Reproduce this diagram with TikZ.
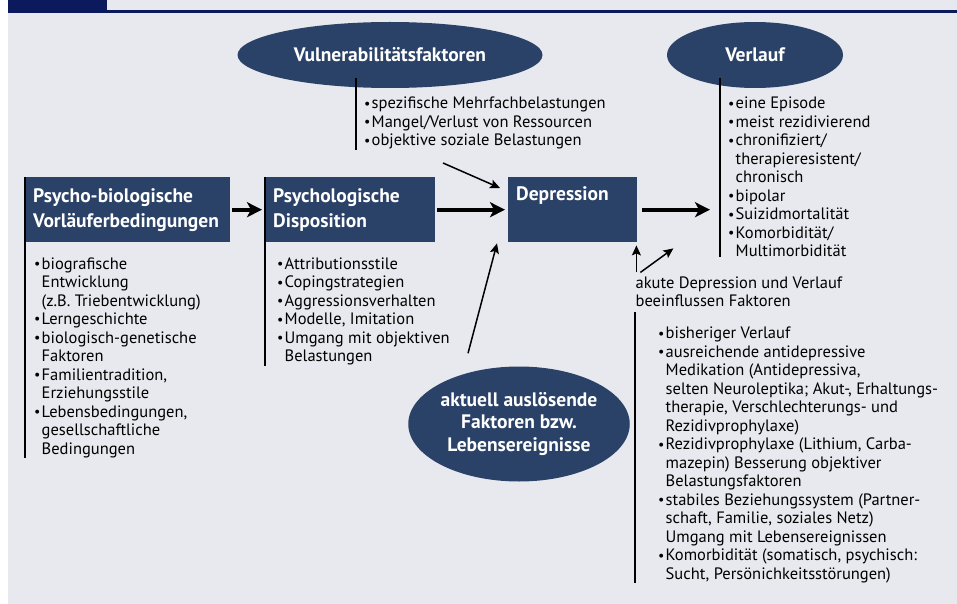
\documentclass[tikz,border=0pt]{standalone}
\usepackage{fontspec}
\setmainfont{PT Sans}
\usetikzlibrary{arrows.meta,positioning,shapes.geometric}
\definecolor{boxblue}{RGB}{42,66,104}
\definecolor{topnavy}{RGB}{10,26,92}
\definecolor{bggray}{RGB}{232,233,238}
\newcommand{\itm}{\makebox[7.5pt][l]{\raisebox{0.8pt}{\scalebox{0.85}{\textbullet}}}}
\newcommand{\ind}{\hspace*{7.5pt}}

\begin{document}
\begin{tikzpicture}[x=1pt, y=-1pt, >=Stealth,
	headbox/.style={draw=none, rectangle, fill=boxblue, text=white, font=\bfseries\fontsize{19.5}{25}\selectfont, minimum height=65pt, inner sep=8pt, align=left, anchor=north west},
	headoval/.style={draw=none, ellipse, fill=boxblue, text=white, font=\bfseries\fontsize{19.5}{22.5}\selectfont, align=center, inner sep=0pt},
	itemlist/.style={draw=none, inner sep=0pt, align=left, font=\fontsize{16.5}{18.5}\selectfont},
	sideLine/.style={line width=1.5pt, -, color=black},
	bigArrow/.style={line width=4pt, -{Stealth[length=15pt,width=15pt,inset=4pt]}},
	smallArrow/.style={line width=1.5pt, -{Stealth[length=10pt,width=9pt,inset=2pt]}}
	]
	\useasboundingbox (0,0) rectangle (957,604);
	\fill[white] (0,0) rectangle (957,604);
	\fill[bggray] (8,0) rectangle (957,604);
	\fill[topnavy] (8,0) rectangle (107,11);
	\fill[topnavy] (8,10) rectangle (957,13);
	
	\node[headoval, minimum width=305pt, minimum height=66pt](vuln) at (390,55) {Vulnerabilitätsfaktoren};
	\node[headoval, minimum width=176pt, minimum height=66pt](verlauf) at (755,55) {Verlauf};
	\node[headbox, text width=189pt](psybio) at (25,177) {Psycho-biologische\\Vorläuferbedingungen};
	\node[headbox, text width=154pt](psydisp) at (265,177) {Psychologische\\Disposition};
	\node[headbox, text width=113pt](depr) at (508,177) {Depression\\\strut};
	\node[headoval, minimum width=212pt, minimum height=115pt](ausl) at (519,424) {aktuell auslösende\\Faktoren bzw.\\Lebensereignisse};
	
	\node[itemlist, below right=15pt and 9pt of psybio.south west](psybiolist) {\itm biografische\\
		\ind Entwicklung\\
		\ind (z.B. Triebentwicklung)\\
		\itm Lerngeschichte\\
		\itm biologisch-genetische\\
		\ind Faktoren\\
		\itm Familientradition,\\
		\ind Erziehungsstile\\
		\itm Lebensbedingungen,\\
		\ind gesellschaftliche\\
		\ind Bedingungen};
	\node[itemlist, below right=15pt and 12pt of psydisp.south west](psydisplist) {\itm Attributionsstile\\
		\itm Copingstrategien\\
		\itm Aggressionsverhalten\\
		\itm Modelle, Imitation\\
		\itm Umgang mit objektiven\\
		\ind Belastungen};
	
	\coordinate (vulnTop) at (356,78);
	\node[itemlist, below right=19pt and 8pt of vulnTop](vulnlist) {\itm spezifische Mehrfachbelastungen\\
		\itm Mangel/Verlust von Ressourcen\\
		\itm objektive soziale Belastungen};
	
	\coordinate (verlTop) at (720,78);
	\node[itemlist, below right=19pt and 8pt of verlTop](verllist) {\itm eine Episode\\
		\itm meist rezidivierend\\
		\itm chronifiziert/\\
		\ind therapieresistent/\\
		\ind chronisch\\
		\itm bipolar\\
		\itm Suizidmortalität\\
		\itm Komorbidität/\\
		\ind Multimorbidität};
	
	\node[itemlist, below right=34pt and -2pt of depr.south east](akute) {akute Depression und Verlauf\\beeinflussen Faktoren};
	\coordinate (faktTop) at (635,312);
	\node[itemlist, below right=15pt and 23pt of faktTop](faktlist) {\itm bisheriger Verlauf\\
		\itm ausreichende antidepressive\\
		\ind Medikation (Antidepressiva,\\
		\ind selten Neuroleptika; Akut-, Erhaltungs-\\
		\ind therapie, Verschlechterungs- und\\
		\ind Rezidivprophylaxe)\\
		\itm Rezidivprophylaxe (Lithium, Carba-\\
		\ind mazepin) Besserung objektiver\\
		\ind Belastungsfaktoren\\
		\itm stabiles Beziehungssystem (Partner-\\
		\ind schaft, Familie, soziales Netz)\\
		\ind Umgang mit Lebensereignissen\\
		\itm Komorbidität (somatisch, psychisch:\\
		\ind Sucht, Persönichkeitsstörungen)};
	
	% side lines
	\draw[sideLine] (psybio.north west) -- (psybio.west |- psybiolist.south);
	\draw[sideLine] (psydisp.north west) -- (psydisp.west |- psydisplist.south);
	\draw[sideLine] (vulnTop) -- (vulnTop |- vulnlist.south);
	\draw[sideLine] (verlTop) -- (verlTop |- verllist.south);
	\draw[sideLine] (faktTop) -- (faktTop |- faktlist.south);
	
	% arrows
	\draw[bigArrow, shorten <=2pt, shorten >=3pt] (psybio) -- (psydisp);
	\draw[bigArrow, shorten <=2pt, shorten >=3pt] (psydisp) -- (depr);
	\draw[bigArrow, shorten <=5pt, shorten >=10pt] (depr) -- (depr -| verlTop);
	\coordinate (vulnOut) at (443,163);
	\coordinate (auslOut) at ([xshift=-51pt, yshift=13pt]ausl.north);
	\coordinate (akOut1) at ([xshift=1pt, yshift=4pt]akute.north west);
	\coordinate (akOut2) at ([xshift=5pt, yshift=4pt]akute.north west);
	\draw[smallArrow] (vulnOut) -- ([xshift=-8pt, yshift=-11pt]depr.north west);
	\draw[smallArrow] (auslOut) -- ([xshift=-11pt, yshift=-1pt]depr.south west);
	\draw[smallArrow] (akOut1) -- ([xshift=-1pt, yshift=-3pt]depr.south east);
	\draw[smallArrow] (akOut2) -- ([xshift=36pt, yshift=-6pt]depr.south east);
\end{tikzpicture}
\end{document}
